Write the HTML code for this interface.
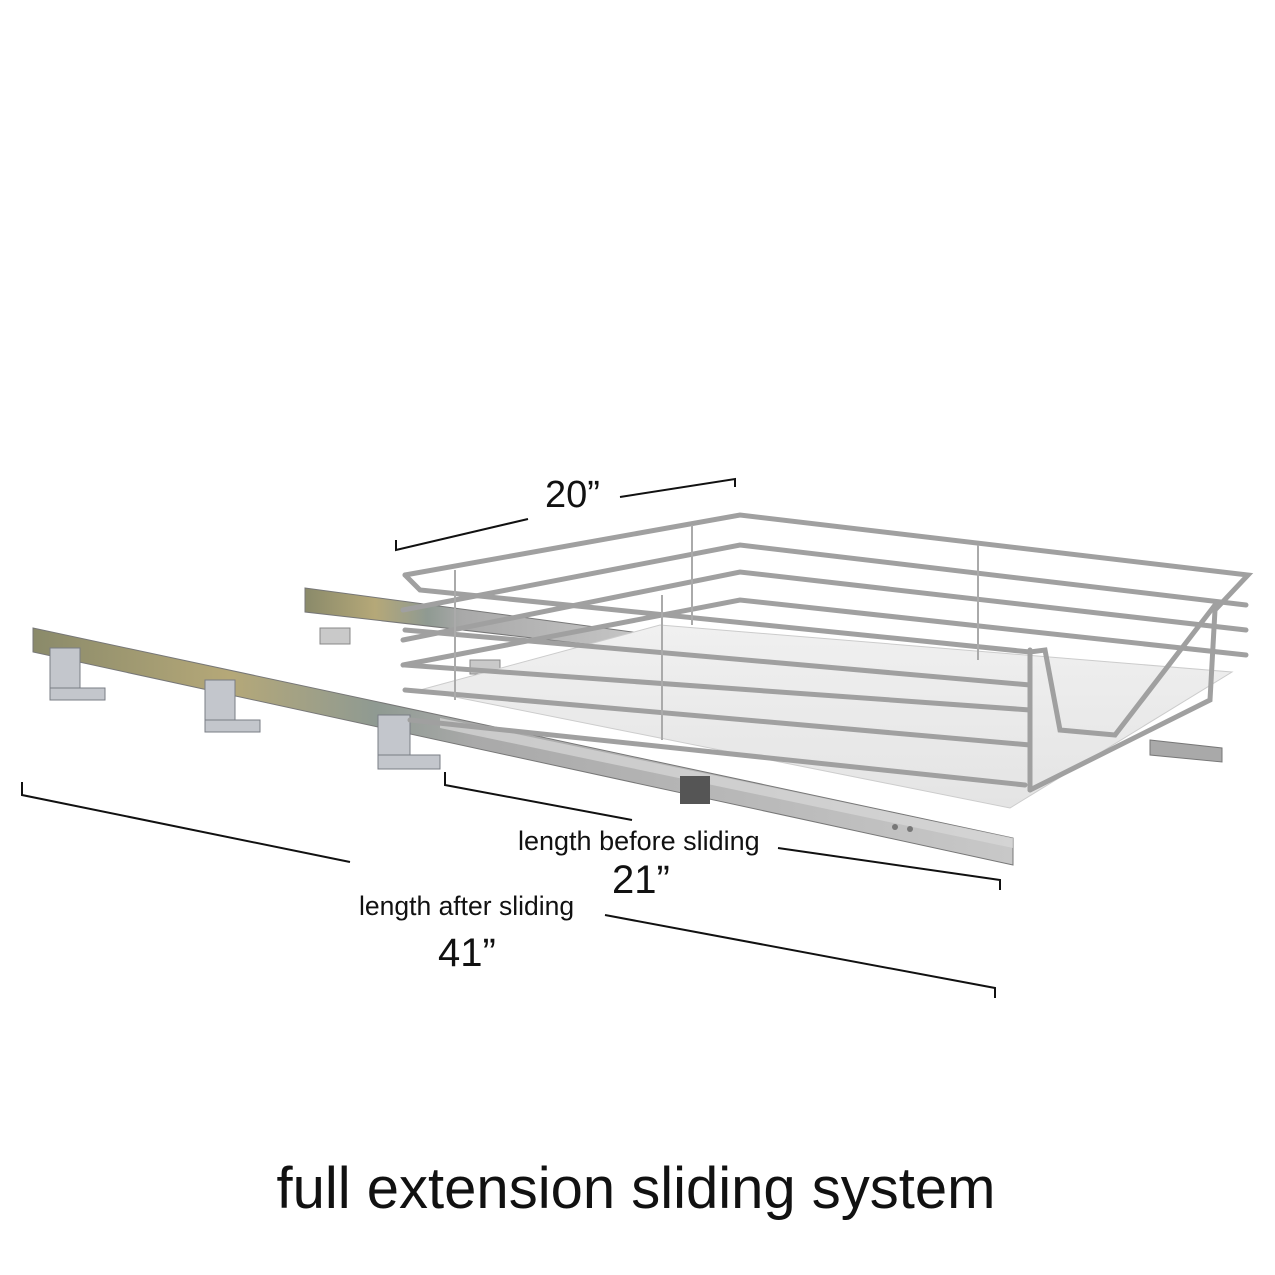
<!DOCTYPE html>
<html><head><meta charset="utf-8"><style>
html,body{margin:0;padding:0;background:#fff;}
svg{display:block}
text{font-family:"Liberation Sans",Arial,sans-serif;fill:#111}
</style></head><body>
<svg width="1275" height="1275" viewBox="0 0 1275 1275" xmlns="http://www.w3.org/2000/svg">
<defs>
<linearGradient id="rail" x1="0" y1="0" x2="1" y2="0">
<stop offset="0" stop-color="#8a8a6a"/><stop offset="0.2" stop-color="#b5a878"/><stop offset="0.35" stop-color="#8f9a92"/><stop offset="0.45" stop-color="#a9a9a9"/><stop offset="1" stop-color="#c8c8c8"/>
</linearGradient>
<linearGradient id="floor" x1="0" y1="0" x2="0" y2="1"><stop offset="0" stop-color="#f0f0f0"/><stop offset="1" stop-color="#e4e4e4"/></linearGradient>
</defs>
<polygon points="305,588 655,635 655,652 305,612" fill="url(#rail)" stroke="#777" stroke-width="1"/>
<polygon points="1150,740 1222,748 1222,762 1150,755" fill="#a9a9a9" stroke="#777"/>
<rect x="320" y="628" width="30" height="16" fill="#c9c9c9" stroke="#888"/>
<rect x="470" y="660" width="30" height="14" fill="#c9c9c9" stroke="#888"/>
<polygon points="420,690 660,625 1232,672 1010,808" fill="url(#floor)" stroke="#ccc"/>
<polygon points="33,628 1013,838 1013,865 33,652" fill="url(#rail)" stroke="#777" stroke-width="1"/>
<polygon points="440,718 1013,838 1013,848 440,728" fill="#d9d9d9" opacity="0.7"/>
<g fill="#c3c6cc" stroke="#7a7d85" stroke-width="1">
<rect x="50" y="648" width="30" height="40"/><rect x="50" y="688" width="55" height="12"/>
<rect x="205" y="680" width="30" height="42"/><rect x="205" y="720" width="55" height="12"/>
<rect x="378" y="715" width="32" height="45"/><rect x="378" y="755" width="62" height="14"/>
</g>
<rect x="680" y="776" width="30" height="28" fill="#555"/>
<circle cx="895" cy="827" r="3" fill="#777"/><circle cx="910" cy="829" r="3" fill="#777"/>
<g fill="none" stroke="#a0a0a0" stroke-width="5" stroke-linecap="round">
<path d="M405,575 L740,515 L1248,575 L1215,610 L1210,700 L1030,790"/>
<path d="M405,575 L420,590 L1030,652 L1045,650 L1060,730 L1115,735 L1215,605"/>
<path d="M403,610 L740,545 L1246,605"/>
<path d="M403,640 L740,572 L1246,630"/>
<path d="M403,665 L740,600 L1246,655"/>
<path d="M405,690 L1030,745"/>
<path d="M405,665 L1030,710"/>
<path d="M405,630 L1030,685"/>
<path d="M410,720 L1025,785"/>
<path d="M1030,650 L1030,790"/>
</g>
<g stroke="#aaa" stroke-width="2">
<line x1="455" y1="570" x2="455" y2="700"/><line x1="662" y1="595" x2="662" y2="740"/>
<line x1="692" y1="525" x2="692" y2="625"/><line x1="978" y1="545" x2="978" y2="660"/>
</g>
<g stroke="#111" stroke-width="2" fill="none">
<path d="M396,540 L396,550 L528,519"/><path d="M620,497 L735,479 L735,487"/>
<path d="M22,782 L22,795 L350,862"/>
<path d="M445,772 L445,785 L632,820"/>
<path d="M778,848 L1000,880 L1000,890"/>
<path d="M605,915 L995,988 L995,998"/>
</g>
<text x="545" y="507" font-size="38">20”</text>
<text x="518" y="850" font-size="27">length before sliding</text>
<text x="612" y="893" font-size="40">21”</text>
<text x="359" y="915" font-size="26.5">length after sliding</text>
<text x="438" y="966" font-size="40">41”</text>
<text x="636" y="1208" font-size="58" text-anchor="middle">full extension sliding system</text>
</svg>
</body></html>
